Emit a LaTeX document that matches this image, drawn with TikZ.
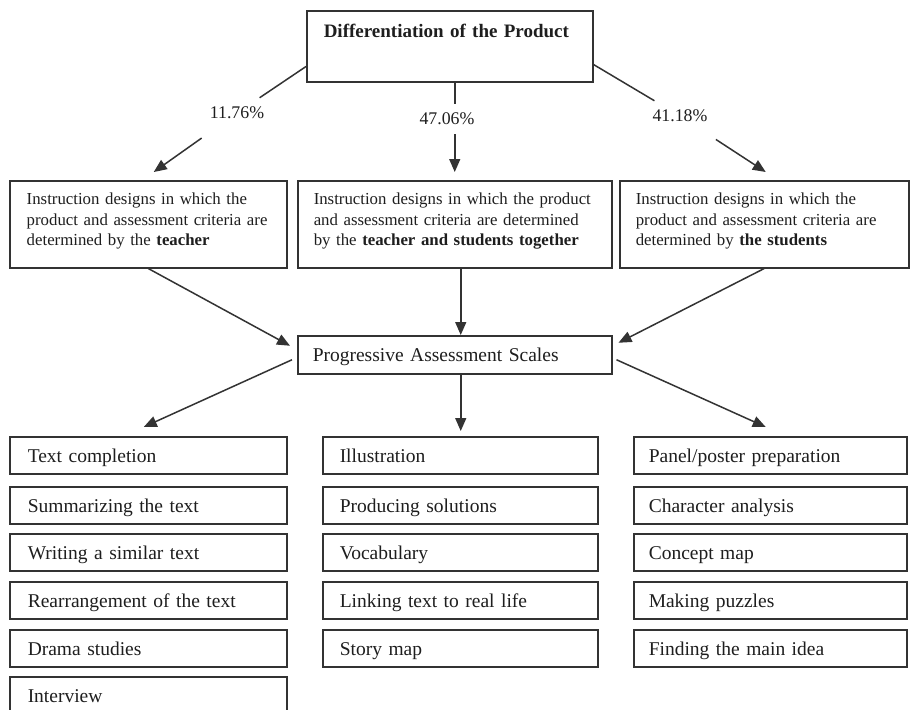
\documentclass[tikz,border=0pt]{standalone}
\usepackage{fontspec}
\setmainfont{Liberation Serif}
\usetikzlibrary{arrows.meta,calc}
\definecolor{ink}{HTML}{333333}
\definecolor{txt}{HTML}{1E1E1E}
\newcommand\oneline[1]{\mbox{#1}}
\begin{document}
\begin{tikzpicture}[x=1pt,y=-1pt,
  box/.style={draw=ink, line width=1.5pt, anchor=north west, align=left, inner ysep=0pt, text=txt},
  conn/.style={draw=ink, line width=1.5pt},
  arr/.style={conn, -{Triangle[length=13pt,width=11pt]}},
  pct/.style={font=\fontsize{17.8}{20}\selectfont, inner sep=9pt, text=txt},
  mid/.style={box, font=\fontsize{16.8}{20.5}\selectfont, text height=24pt, text depth=63pt},
  item/.style={box, font=\fontsize{19.5}{23}\selectfont, text height=25.5pt, text depth=11.5pt},
  itemA/.style={item, text width=241pt, inner xsep=18pt},
  itemB/.style={item, text width=241pt, inner xsep=17pt},
  itemC/.style={item, text width=243pt, inner xsep=15pt},
]
\clip (0,0) rectangle (911,710);
\fill[white] (0,0) rectangle (911,710);

% top
\node[box, font=\bfseries\fontsize{19}{22}\selectfont, text width=252pt, inner xsep=17pt,
      text height=27pt, text depth=44pt] (top) at (306,10) {Differentiation of the Product};

% percentages
\node[pct] (p1) at (237,113) {11.76\%};
\node[pct] (p2) at (447,119) {47.06\%};
\node[pct] (p3) at (680,116) {41.18\%};

% middle boxes
\node[mid, text width=243pt, inner xsep=17pt] (m1) at (9,180)
  {\oneline{Instruction designs in which the}\\\oneline{product and assessment criteria are}\\\oneline{determined by the \textbf{teacher}}};
\node[mid, text width=282pt, inner xsep=16pt] (m2) at (297,180)
  {\oneline{Instruction designs in which the product}\\\oneline{and assessment criteria are determined}\\\oneline{by the \textbf{teacher and students together}}};
\node[mid, text width=257pt, inner xsep=16pt] (m3) at (619,180)
  {\oneline{Instruction designs in which the}\\\oneline{product and assessment criteria are}\\\oneline{determined by \textbf{the students}}};

% progressive
\node[box, font=\fontsize{19.5}{23}\selectfont, text width=284pt, inner xsep=15pt,
      text height=26pt, text depth=12pt] (pr) at (297,335) {Progressive Assessment Scales};

% lists
\node[itemA] (a1) at (9,436) {Text completion};
\node[itemA] (a2) at (9,486) {Summarizing the text};
\node[itemA] (a3) at (9,533) {Writing a similar text};
\node[itemA] (a4) at (9,581) {Rearrangement of the text};
\node[itemA] (a5) at (9,629) {Drama studies};
\node[itemA] (a6) at (9,676) {Interview};

\node[itemB] (b1) at (322,436) {Illustration};
\node[itemB] (b2) at (322,486) {Producing solutions};
\node[itemB] (b3) at (322,533) {Vocabulary};
\node[itemB] (b4) at (322,581) {Linking text to real life};
\node[itemB] (b5) at (322,629) {Story map};

\node[itemC] (c1) at (633,436) {Panel/poster preparation};
\node[itemC] (c2) at (633,486) {Character analysis};
\node[itemC] (c3) at (633,533) {Concept map};
\node[itemC] (c4) at (633,581) {Making puzzles};
\node[itemC] (c5) at (633,629) {Finding the main idea};

% connectors top -> middle
\draw[conn] ($(top.south west)+(0,-16)$) -- (p1);
\draw[arr, shorten <=17pt] (p1) -- ($(m1.north)+(5.5,-8)$);
\draw[conn] ($(top.south)+(5,0)$) coordinate (t2) -- (t2 |- p2.north);
\draw[arr] (t2 |- p2.south) -- ($(m2.north)+(0,-8)$);
\draw[conn] ($(top.south east)+(0,-18)$) -- (p3);
\draw[arr, shorten <=15pt] (p3) -- ($(m3.north)+(1.5,-8)$);

% middle -> progressive
\draw[arr] (m1.south) -- ($(pr.west)+(-7,-9)$);
\draw[arr] ($(m2.south)+(6,0)$) -- ($(pr.north)+(6,0)$);
\draw[arr] (m3.south) -- ($(pr.east)+(6,-12)$);

% progressive -> lists
\draw[arr] ($(pr.west)+(-5,5)$) -- ($(a1.north)+(-4.5,-9)$);
\draw[arr] ($(pr.south)+(6,0)$) -- ($(pr.south |- b1.north)+(6,-5)$);
\draw[arr] ($(pr.east)+(4,5)$) -- ($(c1.north)+(-4.5,-9)$);
\end{tikzpicture}
\end{document}
